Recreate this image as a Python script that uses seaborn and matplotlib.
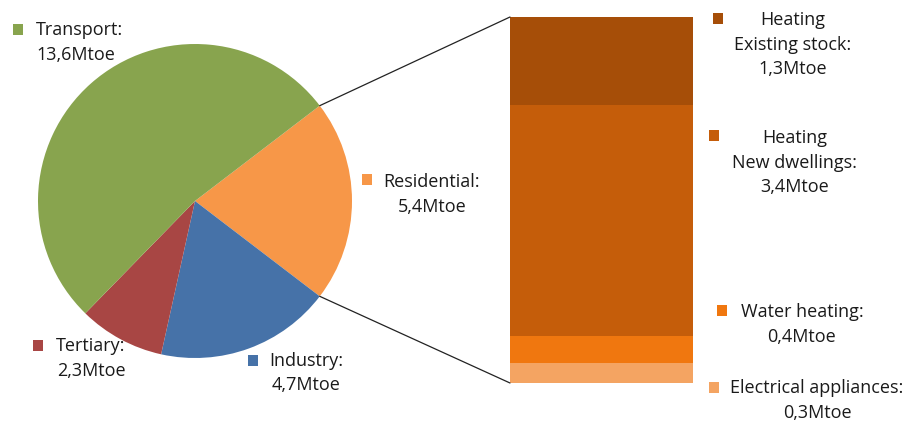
import numpy as np
import matplotlib
matplotlib.use("Agg")
import matplotlib.pyplot as plt
from matplotlib.patches import Rectangle, ConnectionPatch
import seaborn as sns

# Final energy consumption by sector (Mtoe)
sectors = ["Residential", "Industry", "Tertiary", "Transport"]
sector_values = [5.4, 4.7, 2.3, 13.6]
sector_colors = ["#F79748", "#4672A8", "#A84644", "#88A44E"]

# Breakdown of residential consumption (Mtoe), top to bottom of the bar
res_uses = ["Heating\nExisting stock", "Heating\nNew dwellings", "Water heating", "Electrical appliances"]
res_values = [1.3, 3.4, 0.4, 0.3]
res_colors = ["#A64E08", "#C55D0A", "#F0770F", "#F4A462"]

W, H = 906, 421
sns.set_theme(style="white")
plt.rcParams["font.family"] = ["Open Sans", "DejaVu Sans"]

fig = plt.figure(figsize=(W / 100, H / 100), dpi=100)
fig.patch.set_facecolor("white")


def fx(px):
    return px / W


def fy(py):
    return 1 - py / H


def fmt(v):
    return f"{v:.1f}Mtoe".replace(".", ",")


# ---- pie of sectors ----
cx, cy, r = 195, 201, 157
ax_pie = fig.add_axes([fx(cx - r), fy(cy + r), 2 * r / W, 2 * r / H])
total = sum(sector_values)
half = 360 * sector_values[0] / total / 2
ax_pie.pie(sector_values, colors=sector_colors, startangle=half,
           counterclock=False, radius=1, wedgeprops=dict(linewidth=0))
ax_pie.set_xlim(-1, 1)
ax_pie.set_ylim(-1, 1)
ax_pie.set_aspect("auto")
ax_pie.axis("off")

# ---- stacked bar of residential uses ----
bx0, bx1, by0, by1 = 510, 693, 17, 383
ax_bar = fig.add_axes([fx(bx0), fy(by1), (bx1 - bx0) / W, (by1 - by0) / H])
res_total = sum(res_values)
# draw from the full stack down so each smaller cumulative bar sits on top
tops = np.cumsum(res_values[::-1])[::-1]
for top, col in zip(tops, res_colors):
    sns.barplot(x=[0], y=[top], color=col, width=1, ax=ax_bar,
                saturation=1, linewidth=0)
ax_bar.set_xlim(-0.5, 0.5)
ax_bar.set_ylim(0, res_total)
ax_bar.axis("off")

# connecting lines from the residential wedge to the bar
theta = np.deg2rad(half)
for sgn, yb in [(1, res_total), (-1, 0)]:
    con = ConnectionPatch(xyA=(np.cos(theta), sgn * np.sin(theta)), coordsA=ax_pie.transData,
                          xyB=(-0.5, yb), coordsB=ax_bar.transData,
                          color="#222222", linewidth=0.9)
    fig.add_artist(con)


# ---- labels ----
FS = 13
LS = 24.5


def label(lines, color, sq_x, sq_y, text_x, y0, ha="left"):
    fig.add_artist(Rectangle((fx(sq_x), fy(sq_y + 11)), 10 / W, 11 / H,
                             transform=fig.transFigure, facecolor=color,
                             edgecolor="none"))
    for i, (ln, tx) in enumerate(zip(lines, text_x)):
        fig.text(fx(tx), fy(y0 + i * LS), ln, ha=ha, va="center",
                 fontsize=FS, color="#1a1a1a")


s = dict(zip(sectors, zip(sector_values, sector_colors)))
v, c = s["Transport"]
label(["Transport:", fmt(v)], c, 13, 24, [36, 36], 30)
v, c = s["Residential"]
label(["Residential:", fmt(v)], c, 362, 174, [432, 432], 182, ha="center")
v, c = s["Tertiary"]
label(["Tertiary:", fmt(v)], c, 33, 340, [91, 91], 346, ha="center")
v, c = s["Industry"]
label(["Industry:", fmt(v)], c, 248, 355, [306, 306], 361, ha="center")

res_layout = [
    (713, 13, 793, 20),
    (709, 130, 795, 138),
    (717, 305, 802, 312),
    (709, 382, 817, 388),
]
for name, val, col, (sx, sy, tx, ty) in zip(res_uses, res_values, res_colors, res_layout):
    parts = name.split("\n")
    parts[-1] = parts[-1] + ":"
    lines = parts + [fmt(val)]
    label(lines, col, sx, sy, [tx] * len(lines), ty, ha="center")

fig.savefig("out.png", dpi=100, facecolor="white")
